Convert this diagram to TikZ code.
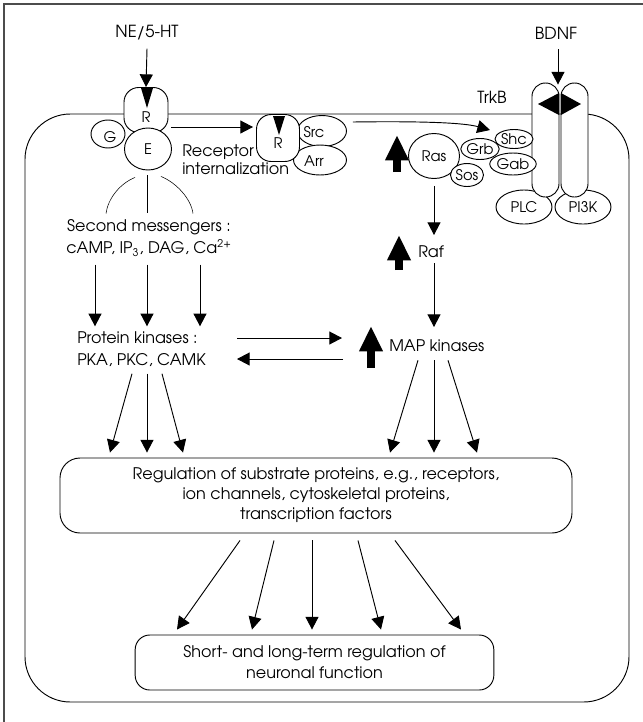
\documentclass[tikz,border=0pt]{standalone}
\usepackage{fontspec}
\setmainfont{TeX Gyre Adventor}
\usetikzlibrary{positioning, arrows.meta, shapes.geometric, calc}

\begin{document}
\begin{tikzpicture}[x=0.75pt, y=-0.75pt,
    txt/.style={inner sep=0pt, font=\fontsize{12}{16.5}\selectfont},
    big/.style={inner sep=0pt, font=\fontsize{12.5}{15}\selectfont},
    tag/.style={inner sep=0pt, font=\fontsize{11}{12}\selectfont},
    oval/.style={ellipse, draw, fill=white, inner sep=0pt, line width=0.7pt, font=\fontsize{11}{12}\selectfont},
    recbox/.style={draw, fill=white, rounded corners=11pt, line width=0.7pt, inner sep=0pt},
    pill/.style={draw, fill=white, rounded corners=10pt, minimum width=20.25pt, minimum height=85.5pt, line width=0.7pt},
    regbox/.style={draw, fill=white, line width=0.7pt, align=center, font=\fontsize{12}{15}\selectfont},
    arr/.style={-{Triangle[length=9.5pt,width=9.75pt]}, line width=0.7pt},
    fat/.style={line width=6pt, -{Triangle[length=19pt,width=16.5pt]}}]
    \useasboundingbox (0,0) rectangle (643,722);

    % Frame and cell
    \draw[gray!60!black, line width=1pt] (4,722) -- (4,4) -- (643,4);
    \draw[line width=0.7pt, rounded corners=34pt] (25,114) rectangle (629,702);

    % NE/5-HT receptor
    \node[big] (ne) at (147,33) {NE/5-HT};
    \node[oval, minimum width=25.5pt, minimum height=21pt] (g) at (108,134) {};
    \node[recbox, minimum width=33pt, minimum height=33.75pt] (r1) at (146,110) {};
    \node[oval, minimum width=35.25pt, minimum height=31.5pt] (e) at (148,149) {E};
    \node[tag] (gt) at (110,137) {G};
    \node[tag] (r1t) at (146,117) {R};
    \fill (141,88) -- (153,88) -- (147,108) -- cycle;
    \draw[arr] ($(ne.south)+(0,8)$) -- (r1.north);

    % Internalized receptor
    \node[oval, minimum width=36.75pt, minimum height=23.25pt] (src) at (322,131) {};
    \node[oval, minimum width=39.75pt, minimum height=22.5pt] (arrn) at (320,160) {};
    \node[recbox, minimum width=32.25pt, minimum height=35.25pt] (r2) at (278,138) {};
    \node[tag] (srct) at (314,132) {Src};
    \node[tag] (arrt) at (314,161) {Arr};
    \node[tag] (r2t) at (278,143) {R};
    \fill (273,116) -- (285,116) -- (279,135) -- cycle;
    \draw[arr] ($(r1.east)+(3,17)$) -- ($(r2.west)+(-3,-11)$);
    \node[txt, align=left, anchor=west, font=\fontsize{12}{13.5}\selectfont] (ri) at (182,160) {Receptor\\internalization};

    % TrkB receptor
    \node[big] (bdnf) at (556,33) {BDNF};
    \node[big] (trkb) at (492,97) {TrkB};
    \node[oval, minimum width=42pt, minimum height=25.5pt] (plc) at (524,207) {PLC};
    \node[oval, minimum width=42pt, minimum height=25.5pt] (pi3k) at (583,207) {PI3K};
    \node[pill] (tl) at (545.5,140) {};
    \node[pill] (tr) at (574.5,140) {};
    \fill (538,104) -- (559,93) -- (559,115) -- cycle;
    \fill (561,93) -- (581,104) -- (561,115) -- cycle;
    \draw[arr] ($(bdnf.south)+(2,10)$) -- ($(tl.north)!0.5!(tr.north)+(-2,2)$);

    % Ras complex
    \node[oval, minimum width=38.25pt, minimum height=33.75pt] (ras) at (434,156) {Ras};
    \node[oval, minimum width=24.75pt, minimum height=17.25pt] (sos) at (467,175) {Sos};
    \node[oval, minimum width=26.25pt, minimum height=15.75pt] (grb) at (480,149) {Grb};
    \node[oval, minimum width=28.5pt, minimum height=14.25pt] (shc) at (514,139) {Shc};
    \node[oval, minimum width=27.75pt, minimum height=16.5pt] (gab) at (513,164) {Gab};
    \draw[arr] ($(src.east)+(6,-9)$) .. controls +(75,-1) and +(-25,-7) .. ($(grb.north)+(10,-8)$);

    % Kinase cascade
    \node[txt, anchor=west] (raf) at (418,252) {Raf};
    \node[txt, anchor=west] (map) at (389,346) {MAP kinases};
    \draw[arr] ($(ras.south)+(0,7)$) -- ($(ras.south |- raf.west)+(0,-17)$);
    \draw[arr] ($(ras.south |- raf.west)+(0,11)$) -- ($(ras.south |- map.west)+(0,-19)$);
    \foreach \x/\ya/\yb in {397/172/135, 399/270/235, 371/368/326}
      \draw[fat] (\x,\ya) -- (\x,\yb);

    % Second messengers and protein kinases
    \node[txt, align=center] (sm) at (149,238) {Second messengers :\\cAMP, IP\textsubscript{3}, DAG, Ca\textsuperscript{2+}};
    \node[txt, align=left, anchor=west] (pk) at (77,349) {Protein kinases :\\PKA, PKC, CAMK};
    \draw ($(e.south)+(-1,5)$) -- ($(e.south)+(-1,43)$);
    \draw ($(e.south)+(-13,7)$) .. controls +(-15,6) and +(2,-15) .. ($(e.south)+(-42,43)$);
    \draw ($(e.south)+(13,6)$) .. controls +(15,6) and +(-2,-15) .. ($(e.south)+(45,43)$);
    \foreach \x in {95,147,200}
      \draw[arr] ($(sm.south -| \x,0)+(0,8)$) -- ($(pk.north -| \x,0)+(0,-5)$);
    \draw[arr] ($(pk.west)+(160,-11)$) -- ($(map.west)+(-47,-8)$);
    \draw[arr] ($(map.west)+(-46,13)$) -- ($(pk.west)+(160,10)$);

    % Substrate proteins
    \node[regbox, rounded corners=15pt, minimum width=384pt, minimum height=56.25pt] (reg) at (316,495.5)
      {Regulation of substrate proteins, e.g., receptors,\\ion channels, cytoskeletal proteins,\\transcription factors};
    \foreach \a/\b in {-15/-37, 0/0, 15/36}
      \draw[arr] ($(pk.south -| 147,0)+(\a,7)$) -- ($(reg.north -| 147,0)+(\b,-5)$);
    \foreach \a/\b in {-16/-44, 0/0, 14/43}
      \draw[arr] ($(map.south -| 434,0)+(\a,8)$) -- ($(reg.north -| 434,0)+(\b,-5)$);

    % Neuronal function
    \node[regbox, rounded corners=11pt, minimum width=269pt, minimum height=41.25pt, font=\fontsize{12}{15.75}\selectfont] (nf) at (314.5,662.5)
      {Short- and long-term regulation of\\neuronal function};
    \foreach \a/\b in {-74/-137, -40/-62, -2/-2, 44/67, 81/147}
      \draw[arr] ($(reg.south -| 314,0)+(\a,7)$) -- ($(nf.north -| 314,0)+(\b,-5)$);
\end{tikzpicture}
\end{document}
